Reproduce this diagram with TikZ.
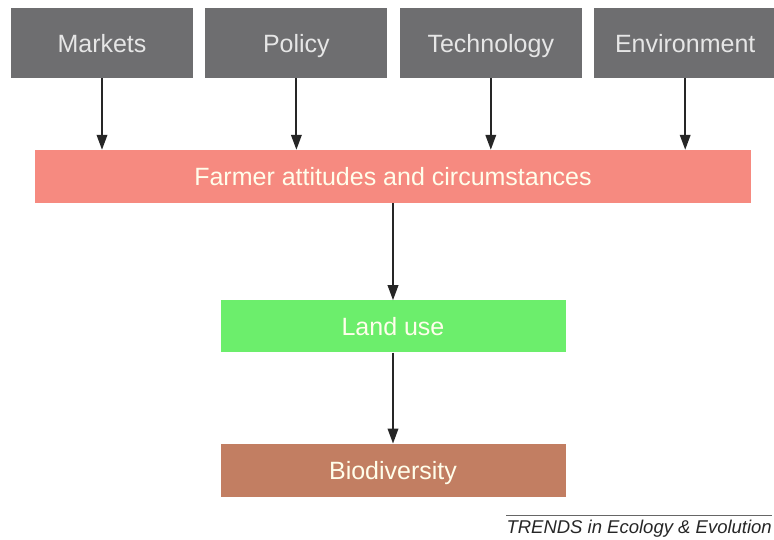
\documentclass[tikz,border=0pt]{standalone}
\usepackage{fontspec}
\setmainfont{Liberation Sans}
\usepackage{tikz}
\usetikzlibrary{
  arrows.meta,
  chains,
  positioning,
  scopes
}

\definecolor{driverfill}{HTML}{6E6E70}
\definecolor{driverfont}{HTML}{E6E6E6}
\definecolor{farmerfill}{HTML}{F68A80}
\definecolor{landfill}{HTML}{6CEE6C}
\definecolor{biofill}{HTML}{C27E62}

\begin{document}
\begin{tikzpicture}[
      x=1pt,y=-1pt,
      driver/.style={
         rectangle,
         inner sep=0pt,
         minimum width=182pt,
         minimum height=70pt,
         fill=driverfill,
         text=driverfont,
         font=\fontsize{25}{30}\selectfont,
         text height=19pt,
         text depth=0pt
      },
      stage/.style={
         rectangle,
         inner sep=0pt,
         minimum height=53pt,
         text=white!92!yellow,
         font=\fontsize{25}{30}\selectfont,
         text height=19pt,
         text depth=0pt
      },
      >={Triangle[length=15pt,width=10.5pt]},
      tip/.style={->,line width=2pt,draw=black!85}
    ]
    \useasboundingbox (0,0) rectangle (774,540);
    % drivers
  { [start chain=going right, node distance=12pt]
    \node (markets) [driver, on chain] at (102,43) {Markets};
    \node (policy) [driver, on chain] {Policy};
    \node (technology) [driver, on chain] {Technology};
    \node (environment) [driver, on chain] {Environment};
  }
    % stages
    \node (farmer) [stage, fill=farmerfill, minimum width=716pt] at (393,176.5)
       {Farmer attitudes and circumstances};
    \node (landuse) [stage, fill=landfill, minimum width=345pt, minimum height=52pt,
       below=97pt of farmer] {Land use};
    \node (biodiv) [stage, fill=biofill, minimum width=345pt,
       below=91pt of landuse] {Biodiversity};
    % arrows
    \foreach \d in {markets,policy,technology,environment}
       \draw[tip] (\d.south) -- (\d.south |- farmer.north);
    \draw[tip] (farmer.south) -- (landuse.north);
    \draw[tip] (landuse.south) -- (biodiv.north);
    % journal label
    \node (journal) [anchor=east, inner sep=0pt, text=black!85,
       font=\fontsize{18.5}{22}\selectfont\itshape] at (772,529)
       {TRENDS in Ecology \& Evolution};
    \draw[black!60, line width=0.8pt] (journal.west |- 0,515) -- (journal.east |- 0,515);
\end{tikzpicture}
\end{document}
